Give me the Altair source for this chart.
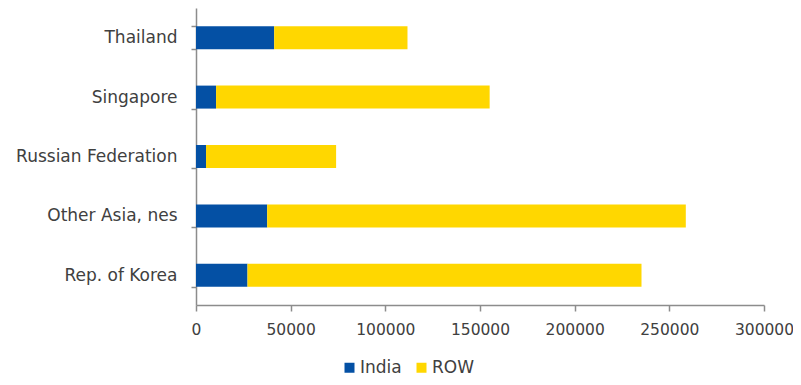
import altair as alt
import pandas as pd

countries = ["Thailand", "Singapore", "Russian Federation", "Other Asia, nes", "Rep. of Korea"]
india = [41300, 10600, 5300, 37600, 27200]
row = [70400, 144500, 68700, 221100, 208100]
series = ["India", "ROW"]
colors = ["#0450A4", "#FFD700"]
x_ticks = [0, 50000, 100000, 150000, 200000, 250000, 300000]

records = []
for c, i, r in zip(countries, india, row):
    records.append({"country": c, "series": "India", "value": i, "ord": 0})
    records.append({"country": c, "series": "ROW", "value": r, "ord": 1})
df = pd.DataFrame(records)

font = "DejaVu Sans"
gray = "#8C8C8C"
txt = "#404040"

chart = alt.Chart(df).mark_bar().encode(
    y=alt.Y("country:N", sort=countries, title=None,
            scale=alt.Scale(paddingInner=0.613, paddingOuter=0.3065),
            axis=alt.Axis(tickBand="extent", domainColor=gray, domainWidth=1.5,
                          tickColor=gray, tickWidth=1.5, tickSize=5,
                          labelFont=font, labelFontSize=17, labelColor=txt,
                          labelPadding=14, grid=False)),
    x=alt.X("value:Q", title=None, stack="zero",
            scale=alt.Scale(domain=[0, 300000], nice=False),
            axis=alt.Axis(values=x_ticks, format="d", domainColor=gray, domainWidth=1.5,
                          tickColor=gray, tickWidth=1.5, tickSize=6,
                          labelFont=font, labelFontSize=15.5, labelColor=txt,
                          labelPadding=11, grid=False, labelFlush=False)),
    color=alt.Color("series:N", scale=alt.Scale(domain=series, range=colors),
                    legend=alt.Legend(title=None, orient="none", direction="horizontal",
                                      legendX=145, legendY=351, symbolType="square",
                                      symbolSize=100, symbolStrokeWidth=0,
                                      labelFont=font, labelFontSize=17, labelColor=txt,
                                      columnPadding=11, labelOffset=2)),
    order=alt.Order("ord:Q"),
).properties(
    width=568, height=297,
    autosize=alt.AutoSizeParams(type="none"),
    padding={"left": 188, "top": 0, "right": 29, "bottom": 72},
).configure(background="white").configure_view(stroke=None, strokeWidth=0)

chart.save("out.html", embed_options={"renderer": "svg", "actions": False})
